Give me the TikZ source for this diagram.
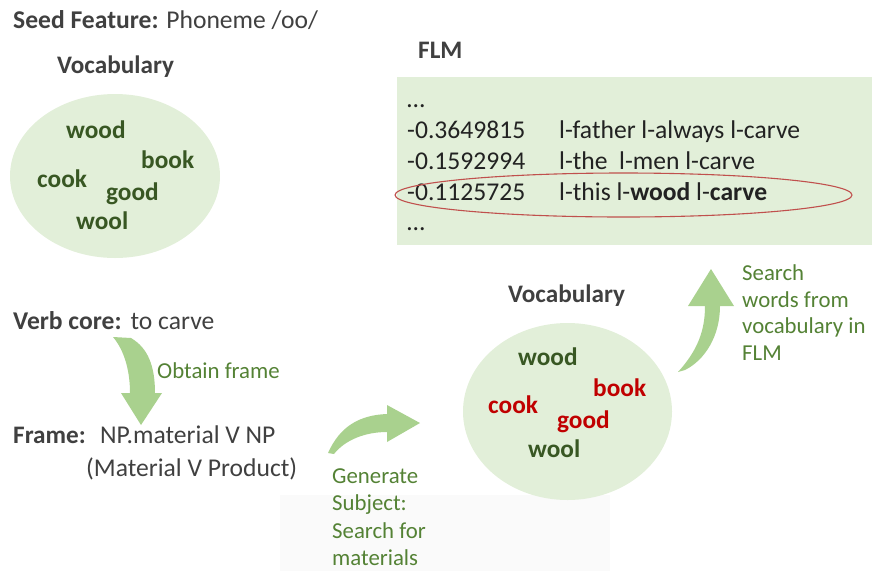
\documentclass[tikz,border=0pt]{standalone}
\usepackage{fontspec}
\setmainfont{Carlito}
\usetikzlibrary{shapes.geometric}

\definecolor{headgray}{HTML}{404040}
\definecolor{bodyink}{HTML}{222222}
\definecolor{wordgreen}{HTML}{385723}
\definecolor{labelgreen}{HTML}{548235}
\definecolor{wordred}{HTML}{C00000}
\definecolor{paleleaf}{HTML}{E2EFD9}
\definecolor{arrowleaf}{HTML}{A9D18E}
\definecolor{ringred}{HTML}{C0504D}

\tikzset{
  txt/.style={inner sep=0pt, anchor=base west, text=headgray,
              font=\fontsize{25.6}{30}\selectfont},
  head/.style={txt, font=\fontsize{25.2}{30}\selectfont\bfseries},
  word/.style={txt, font=\fontsize{25.3}{30}\selectfont\bfseries},
  flm/.style={txt, text=bodyink, font=\fontsize{25.6}{30}\selectfont},
  glabel/.style={txt, text=labelgreen, font=\fontsize{22.8}{27}\selectfont},
  cloud/.style={ellipse, fill=paleleaf, inner sep=0pt},
  blockarrow/.style={fill=arrowleaf, draw=none},
}

\begin{document}
\begin{tikzpicture}[x=1pt,y=-1pt]
\useasboundingbox (0,0) rectangle (872,571);

% faint backdrop under the lower caption
\fill[black!2] (280,495) rectangle (610,571);

% ---- seed feature and first vocabulary ----
\node[txt] (seed) at (13,28) {\textbf{Seed Feature:} Phoneme /oo/};
\node[head] (vocAhead) at (57,73) {Vocabulary};
\node[cloud, minimum width=210pt, minimum height=164pt] (vocA) at (115,176) {};
\node[word, text=wordgreen] (aWood) at (66,138) {wood};
\node[word, text=wordgreen] (aBook) at (141,168) {book};
\node[word, text=wordgreen] (aCook) at (37,187) {cook};
\node[word, text=wordgreen] (aGood) at (106,200) {good};
\node[word, text=wordgreen] (aWool) at (76,229) {wool};

% ---- FLM listing ----
\node[head] (flmhead) at (418,58) {FLM};
\node[fill=paleleaf, inner sep=0pt, anchor=north west,
      minimum width=475pt, minimum height=168pt] (flmbox) at (397,77) {};
\node[flm] (d0) at (407,107) {…};
\node[flm] (n1) at (407,138) {-0.3649815};
\node[flm] (s1) at (559,138) {l-father l-always l-carve};
\node[flm] (n2) at (407,169) {-0.1592994};
\node[flm] (s2) at (559,169) {l-the\ \ l-men l-carve};
\node[flm] (n3) at (407,200) {-0.1125725};
\node[flm] (s3) at (559,200) {l-this l-\textbf{wood} l-\textbf{carve}};
\node[flm] (d1) at (407,230) {…};
\node[ellipse, draw=ringred, line width=1.1pt, inner sep=0pt,
      minimum width=457pt, minimum height=44pt] (ring) at (623.5,195) {};

% ---- verb core and frame ----
\node[txt] (verb) at (13,329) {\textbf{Verb core:}\hspace{9pt}to carve};
\node[glabel] (obtain) at (157,378) {Obtain frame};
\node[head] (framehead) at (13,443) {Frame:};
\node[txt] (frame1) at (100,443) {NP.material V NP};
\node[txt] (frame2) at (86,476) {(Material V Product)};

% curved arrow: verb core -> frame
\path[blockarrow] (113,337) -- (131,338)
  .. controls (148,348) and (155,366) .. (155,393)
  -- (162,393) -- (141,425) -- (121,393) -- (130,393)
  .. controls (130,370) and (124,350) .. (113,337) -- cycle;

% curved arrow: frame -> second vocabulary
\path[blockarrow] (328,453)
  .. controls (340,426) and (360,415) .. (387,414)
  -- (387,405) -- (420,423) -- (387,442) -- (387,432)
  .. controls (365,432) and (345,440) .. (334,454) -- cycle;

% ---- caption under the second arrow ----
\node[glabel] (gen1) at (332,483) {Generate};
\node[glabel] (gen2) at (332,510.5) {Subject:};
\node[glabel] (gen3) at (332,538) {Search for};
\node[glabel] (gen4) at (332,565.5) {materials};

% ---- second vocabulary ----
\node[head] (vocBhead) at (508,302) {Vocabulary};
\node[cloud, minimum width=209pt, minimum height=177pt] (vocB) at (567.5,411.5) {};
\node[word, text=wordgreen] (bWood) at (518,365) {wood};
\node[word, text=wordred] (bBook) at (593,396) {book};
\node[word, text=wordred] (bCook) at (488,413) {cook};
\node[word, text=wordred] (bGood) at (557,428) {good};
\node[word, text=wordgreen] (bWool) at (528,457) {wool};

% curved arrow: vocabulary -> FLM
\path[blockarrow] (678,372)
  .. controls (698,350) and (705,330) .. (705,306)
  -- (688,306) -- (711,269) -- (734,306) -- (720,306)
  .. controls (720,336) and (705,360) .. (685,370) -- cycle;

\node[glabel] (srch1) at (742,280) {Search};
\node[glabel] (srch2) at (742,307) {words from};
\node[glabel] (srch3) at (742,333.5) {vocabulary in};
\node[glabel] (srch4) at (742,360) {FLM};
\end{tikzpicture}
\end{document}
